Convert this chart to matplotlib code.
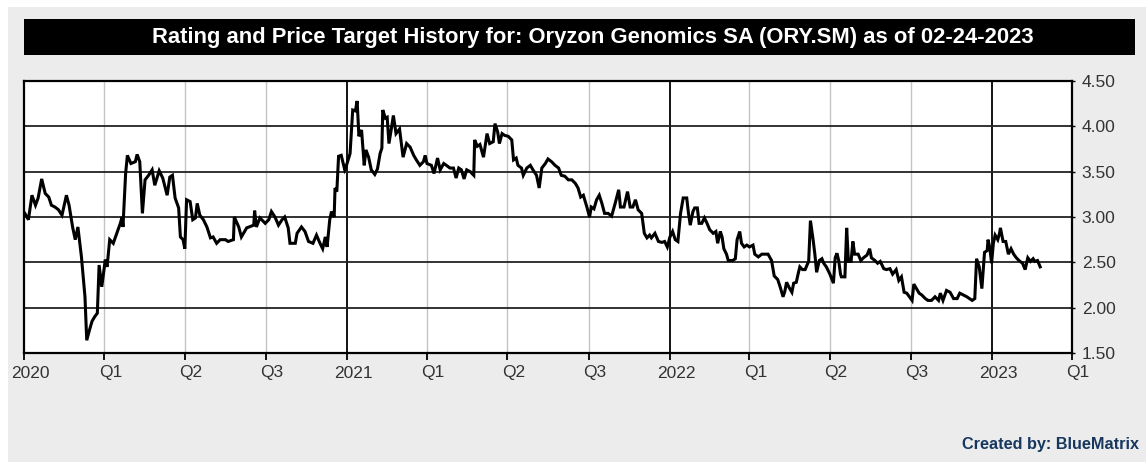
import matplotlib
matplotlib.use("Agg")
import matplotlib.pyplot as plt
import numpy as np
from matplotlib.patches import Rectangle
from matplotlib.transforms import ScaledTranslation

plt.rcParams["font.family"] = ["Liberation Sans", "DejaVu Sans"]

TITLE = "Rating and Price Target History for: Oryzon Genomics SA (ORY.SM) as of 02-24-2023"
CREDIT = "Created by: BlueMatrix"

# price series: days after START, closing price
START = np.datetime64("2020-01-01")
days = [1, 5, 9, 13, 16, 20, 24, 28, 31, 35, 39, 43, 48, 51, 55, 58, 61, 65, 69, 71,
        74, 77, 80, 83, 85, 88, 92, 94, 97, 101, 105, 109, 111, 112, 115, 117, 121, 126, 128, 131,
        134, 137, 141, 145, 148, 153, 157, 162, 165, 168, 171, 175, 177, 180, 182, 184, 188, 191, 194, 196,
        199, 203, 207, 211, 214, 218, 222, 228, 231, 237, 238, 243, 246, 252, 260, 261, 263, 267, 273, 277,
        280, 284, 288, 292, 295, 299, 301, 307, 309, 314, 318, 322, 327, 331, 335, 338, 341, 343, 346, 348,
        351, 352, 354, 356, 359, 363, 364, 369, 372, 375, 377, 379, 382, 385, 387, 390, 393, 397, 400, 403,
        405, 406, 409, 411, 413, 416, 418, 421, 425, 427, 429, 433, 437, 441, 444, 448, 452, 454, 456, 461,
        464, 468, 471, 475, 478, 482, 486, 489, 492, 495, 498, 501, 505, 509, 510, 513, 516, 520, 524, 527,
        531, 533, 536, 538, 541, 544, 548, 552, 554, 557, 559, 563, 565, 569, 573, 576, 580, 583, 586, 590,
        593, 597, 601, 605, 608, 612, 616, 620, 624, 627, 630, 633, 637, 640, 642, 645, 648, 651, 654, 657,
        661, 665, 669, 673, 675, 679, 683, 686, 689, 692, 695, 699, 702, 705, 708, 710, 714, 718, 722, 725,
        728, 731, 734, 737, 740, 743, 746, 750, 752, 754, 757, 759, 762, 764, 767, 770, 773, 776, 780, 783,
        785, 788, 790, 792, 795, 797, 800, 802, 805, 807, 808, 810, 812, 815, 818, 821, 825, 827, 831, 835,
        839, 842, 846, 849, 853, 856, 859, 861, 863, 866, 869, 871, 874, 876, 878, 881, 884, 887, 888, 890,
        893, 895, 897, 900, 903, 905, 908, 912, 916, 918, 920, 922, 924, 925, 929, 931, 933, 936, 938, 940,
        944, 947, 950, 954, 957, 959, 963, 966, 969, 973, 976, 980, 983, 987, 990, 993, 996, 999, 1002, 1005,
        1007, 1010, 1013, 1016, 1020, 1023, 1027, 1031, 1035, 1037, 1040, 1044, 1048, 1052, 1056, 1059, 1063, 1067, 1073, 1076,
        1078, 1081, 1084, 1087, 1090, 1091, 1093, 1095, 1097, 1099, 1102, 1104, 1105, 1108, 1111, 1114, 1117, 1120, 1123, 1126,
        1130, 1133, 1136, 1139, 1142, 1144, 1147, 1150]
price = [3.04, 2.97, 3.24, 3.13, 3.21, 3.42, 3.26, 3.22, 3.13, 3.11, 3.08, 3.02, 3.24, 3.13, 2.89, 2.75, 2.89, 2.56, 2.12, 1.64,
         1.75, 1.85, 1.90, 1.94, 2.47, 2.23, 2.53, 2.45, 2.75, 2.71, 2.82, 2.93, 3.00, 2.89, 3.48, 3.68, 3.59, 3.61, 3.69, 3.61,
         3.04, 3.41, 3.46, 3.52, 3.35, 3.51, 3.43, 3.24, 3.44, 3.46, 3.21, 3.10, 2.78, 2.75, 2.65, 3.19, 3.17, 2.97, 2.99, 3.15,
         3.02, 2.97, 2.89, 2.77, 2.78, 2.71, 2.75, 2.75, 2.73, 2.75, 3.00, 2.89, 2.78, 2.88, 2.91, 3.07, 2.89, 2.99, 2.93, 2.97,
         3.06, 3.00, 2.91, 2.97, 3.00, 2.88, 2.71, 2.71, 2.82, 2.89, 2.84, 2.73, 2.71, 2.80, 2.71, 2.65, 2.78, 2.67, 2.97, 3.06,
         3.00, 3.32, 3.28, 3.67, 3.68, 3.52, 3.54, 3.70, 4.18, 4.17, 4.28, 3.89, 3.96, 3.57, 3.74, 3.66, 3.52, 3.47, 3.53, 3.70,
         3.76, 4.18, 4.09, 4.10, 3.81, 3.99, 4.12, 3.92, 3.97, 3.81, 3.66, 3.81, 3.77, 3.68, 3.63, 3.57, 3.61, 3.68, 3.59, 3.57,
         3.48, 3.65, 3.52, 3.59, 3.57, 3.54, 3.54, 3.43, 3.54, 3.52, 3.42, 3.52, 3.50, 3.46, 3.85, 3.78, 3.80, 3.66, 3.92, 3.81,
         3.83, 4.03, 3.94, 3.81, 3.92, 3.90, 3.89, 3.85, 3.63, 3.65, 3.57, 3.54, 3.46, 3.54, 3.57, 3.52, 3.46, 3.32, 3.54, 3.59,
         3.64, 3.61, 3.57, 3.54, 3.46, 3.45, 3.41, 3.41, 3.37, 3.32, 3.22, 3.24, 3.11, 3.00, 3.11, 3.09, 3.19, 3.24, 3.15, 3.04,
         3.04, 3.01, 3.15, 3.30, 3.11, 3.11, 3.28, 3.11, 3.11, 3.19, 3.08, 3.04, 2.82, 2.77, 2.80, 2.77, 2.82, 2.73, 2.72, 2.73,
         2.67, 2.78, 2.84, 2.75, 2.73, 3.04, 3.21, 3.21, 3.04, 2.91, 3.06, 3.10, 3.10, 2.93, 2.93, 2.99, 2.93, 2.86, 2.82, 2.84,
         2.71, 2.84, 2.78, 2.65, 2.59, 2.52, 2.52, 2.52, 2.54, 2.75, 2.78, 2.84, 2.71, 2.67, 2.69, 2.67, 2.69, 2.59, 2.56, 2.59,
         2.59, 2.59, 2.52, 2.35, 2.31, 2.22, 2.12, 2.18, 2.28, 2.22, 2.17, 2.27, 2.28, 2.37, 2.45, 2.42, 2.42, 2.49, 2.51, 2.96,
         2.75, 2.59, 2.39, 2.52, 2.54, 2.49, 2.45, 2.37, 2.27, 2.55, 2.60, 2.52, 2.37, 2.34, 2.34, 2.88, 2.51, 2.51, 2.73, 2.59,
         2.59, 2.52, 2.55, 2.58, 2.65, 2.55, 2.52, 2.49, 2.51, 2.43, 2.42, 2.43, 2.37, 2.42, 2.30, 2.34, 2.17, 2.16, 2.12, 2.08,
         2.26, 2.21, 2.16, 2.14, 2.10, 2.08, 2.08, 2.12, 2.08, 2.16, 2.08, 2.19, 2.17, 2.10, 2.10, 2.16, 2.14, 2.12, 2.08, 2.10,
         2.54, 2.45, 2.21, 2.61, 2.63, 2.75, 2.66, 2.49, 2.71, 2.80, 2.75, 2.82, 2.88, 2.73, 2.73, 2.59, 2.65, 2.59, 2.55, 2.52,
         2.49, 2.42, 2.55, 2.51, 2.54, 2.51, 2.52, 2.45]

tick_dates = ["2020-01-01", "2020-04-01", "2020-07-01", "2020-10-01", "2021-01-01", "2021-04-01", "2021-07-01",
              "2021-10-01", "2022-01-01", "2022-04-01", "2022-07-01", "2022-10-01", "2023-01-01", "2023-04-01"]
tick_labels = ["2020", "Q1", "Q2", "Q3", "2021", "Q1", "Q2", "Q3", "2022", "Q1", "Q2", "Q3", "2023", "Q1"]
y_ticks = [1.5, 2.0, 2.5, 3.0, 3.5, 4.0, 4.5]

W, H = 1146, 462
fig = plt.figure(figsize=(W / 100, H / 100), dpi=100, facecolor="#ececec")
# white margin at top and left, as in the original image
fig.patches.append(Rectangle((0, 1 - 7 / H), 1, 7 / H, transform=fig.transFigure, fc="white", ec="none", zorder=0))
fig.patches.append(Rectangle((0, 0), 8 / W, 1, transform=fig.transFigure, fc="white", ec="none", zorder=0))
# black title bar
fig.patches.append(Rectangle((24 / W, 1 - 54.5 / H), 1111 / W, 35.5 / H, transform=fig.transFigure,
                             fc="black", ec="none", zorder=1))
fig.text(593 / W, 1 - 37 / H, TITLE, color="white", fontsize=15.8, fontweight="bold", ha="center", va="center")
fig.text(1139 / W, 1 - 444 / H, CREDIT, color="#17375e", fontsize=11.7, fontweight="bold", ha="right", va="center")

ax = fig.add_axes([24 / W, 1 - 353 / H, 1048 / W, 272 / H])
ax.set_facecolor("white")

x = START + np.array(days).astype("timedelta64[D]")
tx = np.array(tick_dates, dtype="datetime64[D]")

ax.set_xlim(tx[0], tx[-1])
ax.set_ylim(y_ticks[0], y_ticks[-1])

for d, lab in zip(tx, tick_labels):
    year = not lab.startswith("Q")
    ax.axvline(d, color="black" if year else "#c4c4c4", lw=1.3 if year else 1.0, zorder=1)
for v in y_ticks[1:-1]:
    ax.axhline(v, color="#222222", lw=1.3, zorder=1)

ax.plot(x, price, color="black", lw=2.2, zorder=3, solid_joinstyle="miter")

for s in ax.spines.values():
    s.set_color("black")
    s.set_linewidth(1.6)
    s.set_zorder(4)

ax.set_xticks(tx)
ax.set_xticklabels(tick_labels)
ax.tick_params(axis="x", length=5, width=1.3, pad=4, labelsize=12.5, labelcolor="#333333")
for t, lab in zip(ax.xaxis.get_major_ticks(), tick_labels):
    t.tick1line.set_color("black" if not lab.startswith("Q") else "#c4c4c4")
off = ScaledTranslation(6 / 100, 0, fig.dpi_scale_trans)
for lab in ax.get_xticklabels():
    lab.set_transform(lab.get_transform() + off)

ax.yaxis.tick_right()
ax.set_yticks(y_ticks)
ax.set_yticklabels([f"{v:.2f}" for v in y_ticks])
ax.tick_params(axis="y", length=2, width=1, pad=5, labelsize=12.5, labelcolor="#333333")

fig.savefig("out.png", dpi=100, facecolor=fig.get_facecolor())
